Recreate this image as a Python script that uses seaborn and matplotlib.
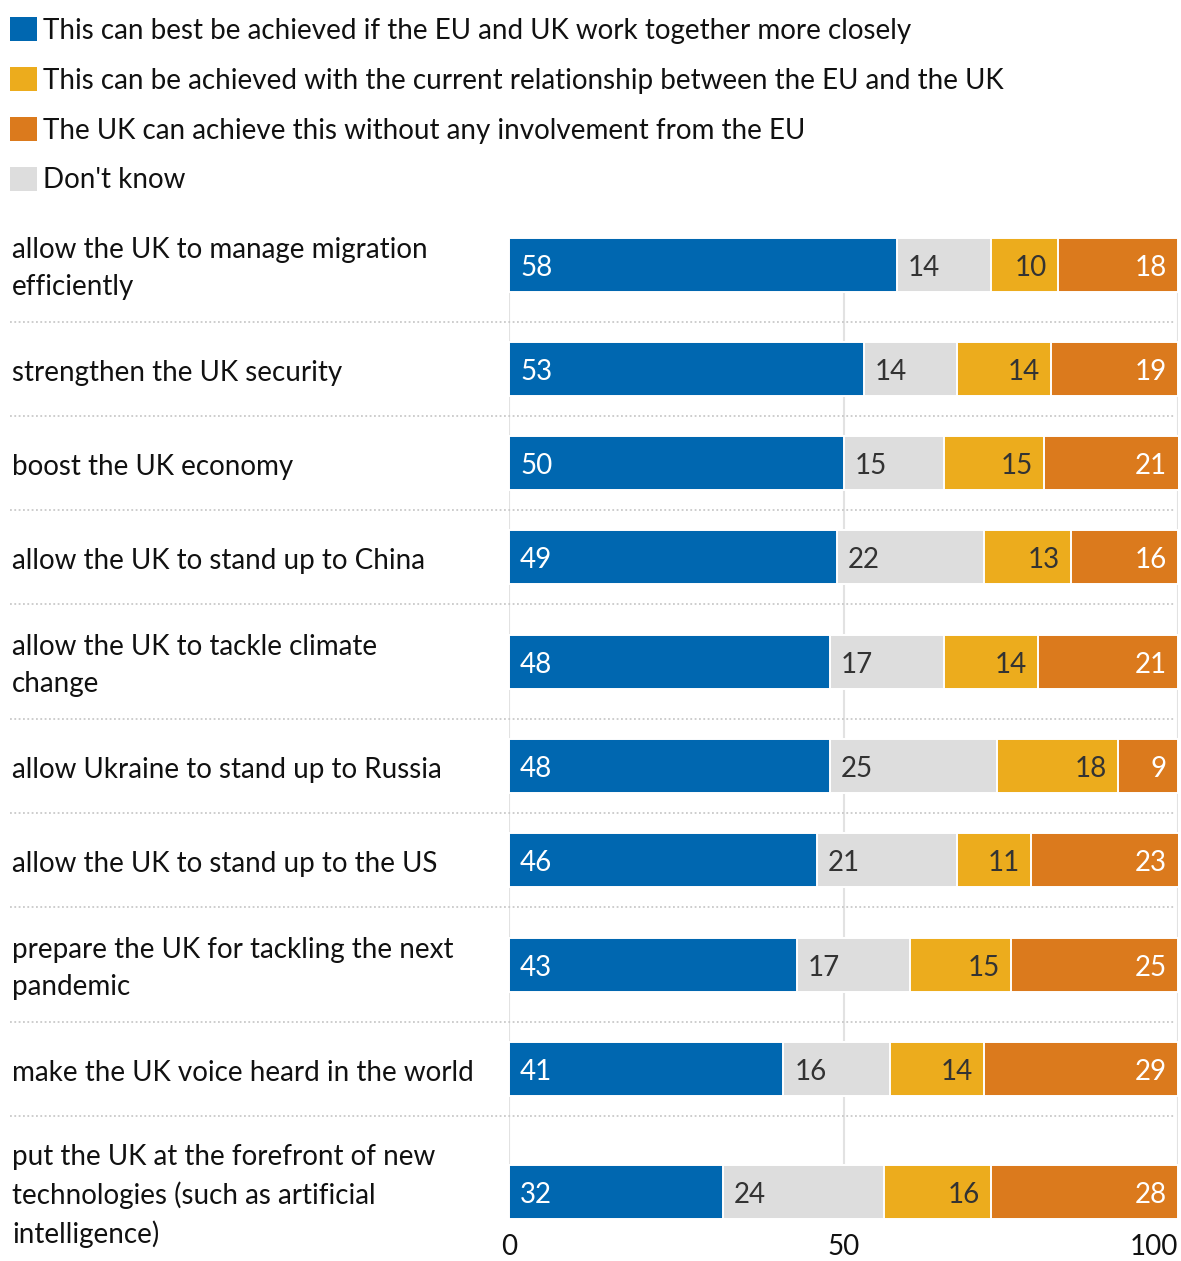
import matplotlib
matplotlib.use("Agg")
import matplotlib.pyplot as plt
import matplotlib.transforms as mtransforms
from matplotlib.patches import Patch
import numpy as np
import pandas as pd
import seaborn as sns

# ---- data -----------------------------------------------------------------
statements = [
    "allow the UK to manage migration\nefficiently",
    "strengthen the UK security",
    "boost the UK economy",
    "allow the UK to stand up to China",
    "allow the UK to tackle climate\nchange",
    "allow Ukraine to stand up to Russia",
    "allow the UK to stand up to the US",
    "prepare the UK for tackling the next\npandemic",
    "make the UK voice heard in the world",
    "put the UK at the forefront of new\ntechnologies (such as artificial\nintelligence)",
]
work_together = [58, 53, 50, 49, 48, 48, 46, 43, 41, 32]
dont_know = [14, 14, 15, 22, 17, 25, 21, 17, 16, 24]
current_relationship = [10, 14, 15, 13, 14, 18, 11, 15, 14, 16]
uk_alone = [18, 19, 21, 16, 21, 9, 23, 25, 29, 28]

legend_labels = [
    "This can best be achieved if the EU and UK work together more closely",
    "This can be achieved with the current relationship between the EU and the UK",
    "The UK can achieve this without any involvement from the EU",
    "Don't know",
]
x_ticks = [0, 50, 100]

# ---- style ------------------------------------------------------------------
BLUE = "#0067B0"
YELLOW = "#ECAC1D"
ORANGE = "#DB7A1D"
GREY = "#DDDDDD"
DARK = "#333333"
FONT = "Lato"
FS = 20

W, H, DPI = 1181, 1261, 100
sns.set_theme(style="white")
plt.rcParams["font.family"] = [FONT, "DejaVu Sans"]

fig = plt.figure(figsize=(W / DPI, H / DPI), dpi=DPI)

# Row geometry in pixel rows (top = 0); a row grows with its label's line count
row_height = {1: 94, 2: 115, 3: 152}
top = 207
bar_h = 54
centers, separators = [], []
y = top
for i, lab in enumerate(statements):
    h = row_height[lab.count("\n") + 1]
    centers.append(y + h / 2)
    y += h
    if i < len(statements) - 1:
        separators.append(y)
centers = np.array(centers)
plot_top = centers[0] - bar_h / 2
plot_bottom = centers[-1] + bar_h / 2

x0_px, x1_px = 509, 1178
ax = fig.add_axes([x0_px / W, 1 - plot_bottom / H, (x1_px - x0_px) / W,
                   (plot_bottom - top) / H])

df = pd.DataFrame({
    "pos": centers,
    "blue": work_together,
    "grey": dont_know,
    "yellow": current_relationship,
    "orange": uk_alone,
})
df["c1"] = df["blue"]
df["c2"] = df["c1"] + df["grey"]
df["c3"] = df["c2"] + df["yellow"]
df["c4"] = df["c3"] + df["orange"]

# vertical grid lines behind the bars
ax.vlines(x_ticks, plot_top, plot_bottom, colors="#E2E2E2", linewidth=1.5, zorder=0)

width_frac = bar_h / np.min(np.diff(centers))
for col, colour in [("c4", ORANGE), ("c3", YELLOW), ("c2", GREY), ("c1", BLUE)]:
    sns.barplot(data=df, x=col, y="pos", orient="y", native_scale=True,
                width=width_frac, color=colour, edgecolor="white",
                linewidth=1.4, errorbar=None, saturation=1, ax=ax, zorder=2)

ax.set_xlim(0, 100)
ax.set_ylim(plot_bottom, top)
ax.set_xlabel("")
ax.set_ylabel("")
ax.set_yticks([])
ax.set_xticks(x_ticks)
ax.set_xticklabels([str(t) for t in x_ticks], fontsize=FS, color="#111111")
ax.tick_params(axis="x", length=0, pad=11)
ax.get_xticklabels()[-1].set_horizontalalignment("right")
ax.get_xticklabels()[-1].set_x(100)
for s in ax.spines.values():
    s.set_visible(False)
ax.set_facecolor("none")

# value labels inside the segments (nudged so the digits sit centred on the bar)
offs = 11
nudge = -3
for _, r in df.iterrows():
    yc = r["pos"]
    ax.annotate(f"{int(r['blue'])}", (0, yc), xytext=(offs, nudge),
                textcoords="offset pixels", ha="left", va="center",
                fontsize=FS, color="white", zorder=5)
    ax.annotate(f"{int(r['grey'])}", (r["c1"], yc), xytext=(offs, nudge),
                textcoords="offset pixels", ha="left", va="center",
                fontsize=FS, color=DARK, zorder=5)
    ax.annotate(f"{int(r['yellow'])}", (r["c3"], yc), xytext=(-offs, nudge),
                textcoords="offset pixels", ha="right", va="center",
                fontsize=FS, color=DARK, zorder=5)
    ax.annotate(f"{int(r['orange'])}", (min(r["c4"], 100), yc), xytext=(-offs, nudge),
                textcoords="offset pixels", ha="right", va="center",
                fontsize=FS, color="white", zorder=5)

# row labels and dotted separators, x in figure fraction, y in data rows
blend = mtransforms.blended_transform_factory(fig.transFigure, ax.transData)
for lab, yc in zip(statements, centers):
    ax.annotate(lab, (12 / W, yc), xycoords=blend, xytext=(0, -4),
                textcoords="offset pixels", ha="left", va="center",
                fontsize=FS, color="#111111", linespacing=1.52,
                annotation_clip=False)
for ys in separators:
    ax.plot([10 / W, 1175 / W], [ys, ys], transform=blend, color="#C9C9C9",
            linewidth=1.3, linestyle=(0, (1, 1.4)), clip_on=False, zorder=1)

# legend
handles = [Patch(facecolor=c, edgecolor="none") for c in (BLUE, YELLOW, ORANGE, GREY)]
fig.legend(handles, legend_labels, loc="upper left",
           bbox_to_anchor=(10 / W, 1 - 17 / H), frameon=False,
           fontsize=FS, handlelength=0.96, handleheight=0.96,
           handletextpad=0.22, labelspacing=0.84, borderpad=0,
           borderaxespad=0, labelcolor="#111111")

fig.savefig("out.png", dpi=DPI, facecolor="white")
